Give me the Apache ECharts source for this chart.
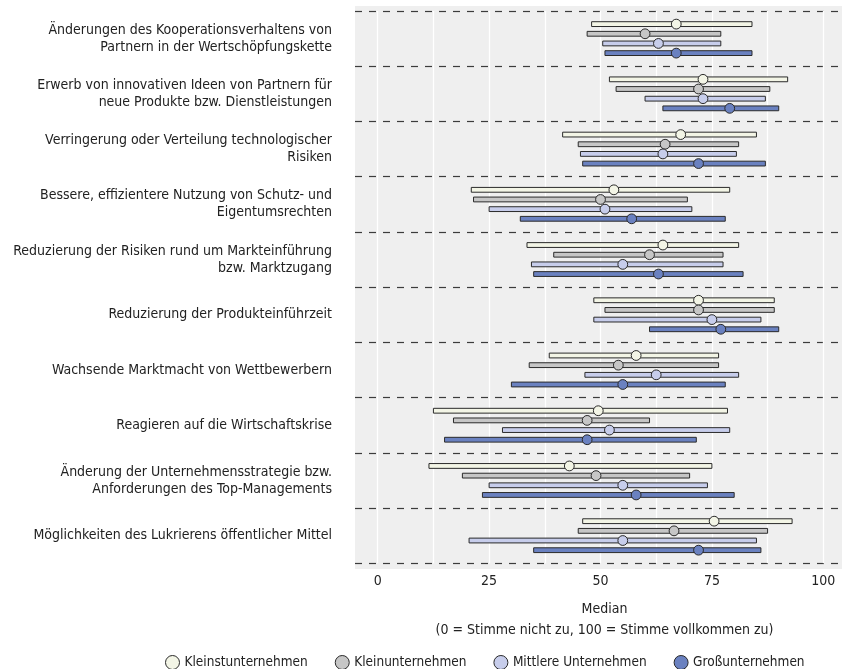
<!DOCTYPE html>
<html>
<head>
<meta charset="utf-8">
<script src="https://cdn.jsdelivr.net/npm/echarts@6/dist/echarts.min.js"></script>
<style>
  html, body { margin: 0; padding: 0; background: #ffffff; }
  #chart { width: 842px; height: 669px; }
</style>
</head>
<body>
<div id="chart"></div>
<script>
var categories = [
  'Änderungen des Kooperationsverhaltens von\nPartnern in der Wertschöpfungskette',
  'Erwerb von innovativen Ideen von Partnern für\nneue Produkte bzw. Dienstleistungen',
  'Verringerung oder Verteilung technologischer\nRisiken',
  'Bessere, effizientere Nutzung von Schutz- und\nEigentumsrechten',
  'Reduzierung der Risiken rund um Markteinführung\nbzw. Marktzugang',
  'Reduzierung der Produkteinführzeit',
  'Wachsende Marktmacht von Wettbewerbern',
  'Reagieren auf die Wirtschaftskrise',
  'Änderung der Unternehmensstrategie bzw.\nAnforderungen des Top-Managements',
  'Möglichkeiten des Lukrierens öffentlicher Mittel'
]
var seriesNames = ['Kleinstunternehmen', 'Kleinunternehmen', 'Mittlere Unternehmen', 'Großunternehmen']

var kleinstLow = [48, 52, 41.5, 21, 33.5, 48.5, 38.5, 12.5, 11.5, 46]
var kleinstMed = [67, 73, 68, 53, 64, 72, 58, 49.5, 43, 75.5]
var kleinstHigh = [84, 92, 85, 79, 81, 89, 76.5, 78.5, 75, 93]

var kleinLow = [47, 53.5, 45, 21.5, 39.5, 51, 34, 17, 19, 45]
var kleinMed = [60, 72, 64.5, 50, 61, 72, 54, 47, 49, 66.5]
var kleinHigh = [77, 88, 81, 69.5, 77.5, 89, 76.5, 61, 70, 87.5]

var mittelLow = [50.5, 60, 45.5, 25, 34.5, 48.5, 46.5, 28, 25, 20.5]
var mittelMed = [63, 73, 64, 51, 55, 75, 62.5, 52, 55, 55]
var mittelHigh = [77, 87, 80.5, 70.5, 77.5, 86, 81, 79, 74, 85]

var grossLow = [51, 64, 46, 32, 35, 61, 30, 15, 23.5, 35]
var grossMed = [67, 79, 72, 57, 63, 77, 55, 47, 58, 72]
var grossHigh = [84, 90, 87, 78, 82, 90, 78, 71.5, 80, 86]

var xLabels = [0, 25, 50, 75, 100]
var xGrid = [0, 12.5, 25, 37.5, 50, 62.5, 75, 87.5, 100]

var font = "'Liberation Sans Narrow', 'DejaVu Sans Condensed', 'Arial Narrow', sans-serif"
var fills = ['#f3f5e6', '#c6c6c6', '#c7cdeb', '#6a81c0']
var offsets = [-0.2625, -0.0875, 0.0875, 0.2625]

function rows(low, med, high) {
  return categories.map(function (c, i) {
    return [i, low[i], med[i], high[i]]
  })
}

function renderer(k) {
  return function (params, api) {
    var cat = api.value(0)
    var lo = api.coord([api.value(1), cat])
    var md = api.coord([api.value(2), cat])
    var hi = api.coord([api.value(3), cat])
    var band = api.size([0, 1])[1]
    var dy = band * offsets[k]
    return {
      type: 'group',
      children: [
        {
          type: 'rect',
          shape: { x: lo[0], y: lo[1] + dy - 2.4, width: hi[0] - lo[0], height: 4.8 },
          style: { fill: fills[k], stroke: '#2a2a2a', lineWidth: 1 }
        },
        {
          type: 'circle',
          shape: { cx: md[0], cy: md[1] + dy, r: 4.9 },
          style: { fill: fills[k], stroke: '#2a2a2a', lineWidth: 1 }
        }
      ]
    }
  }
}

var seriesData = [
  rows(kleinstLow, kleinstMed, kleinstHigh),
  rows(kleinLow, kleinMed, kleinHigh),
  rows(mittelLow, mittelMed, mittelHigh),
  rows(grossLow, grossMed, grossHigh)
]

var chart = echarts.init(document.getElementById('chart'))
chart.setOption({
  backgroundColor: '#ffffff',
  animation: false,
  textStyle: { fontFamily: font },
  graphic: [{
    type: 'rect',
    z: -10,
    shape: { x: 355, y: 6, width: 487, height: 563 },
    style: { fill: '#efefef' }
  }],
  grid: { left: 355, right: 0, top: 11, bottom: 105.7, containLabel: false, outerBoundsMode: 'none' },
  legend: {
    left: 160,
    top: 650,
    width: 700,
    icon: 'circle',
    itemWidth: 14,
    itemHeight: 14,
    itemGap: 27,
    textStyle: { fontFamily: font, fontSize: 13.5, color: '#222' },
    data: seriesNames.map(function (n, k) {
      return { name: n, itemStyle: { color: fills[k], borderColor: '#2a2a2a', borderWidth: 1 } }
    })
  },
  xAxis: {
    type: 'value',
    min: -5.1,
    max: 104.2,
    axisLine: { show: false },
    axisTick: { show: false, customValues: xGrid },
    axisLabel: { customValues: xLabels, margin: 11, fontSize: 14, color: '#222', fontFamily: font },
    splitLine: { show: true, lineStyle: { color: '#ffffff', width: 1.3 } },
    name: 'Median\n(0 = Stimme nicht zu, 100 = Stimme vollkommen zu)',
    nameLocation: 'middle',
    nameGap: 36,
    nameTextStyle: { fontSize: 14, lineHeight: 21, color: '#222', fontFamily: font, padding: [0, 0, 0, 12] }
  },
  yAxis: {
    type: 'category',
    inverse: true,
    data: categories,
    axisLine: { show: false },
    axisTick: { show: false },
    axisLabel: { interval: 0, margin: 23, fontSize: 14, lineHeight: 17, color: '#222', align: 'right', fontFamily: font },
    splitLine: { show: true, interval: 0, lineStyle: { color: '#3c3c3c', width: 1.2, type: [7, 7] } }
  },
  series: seriesNames.map(function (n, k) {
    return {
      name: n,
      type: 'custom',
      renderItem: renderer(k),
      itemStyle: { color: fills[k], borderColor: '#2a2a2a', borderWidth: 1 },
      encode: { x: [1, 2, 3], y: 0 },
      data: seriesData[k]
    }
  })
})
</script>
</body>
</html>
